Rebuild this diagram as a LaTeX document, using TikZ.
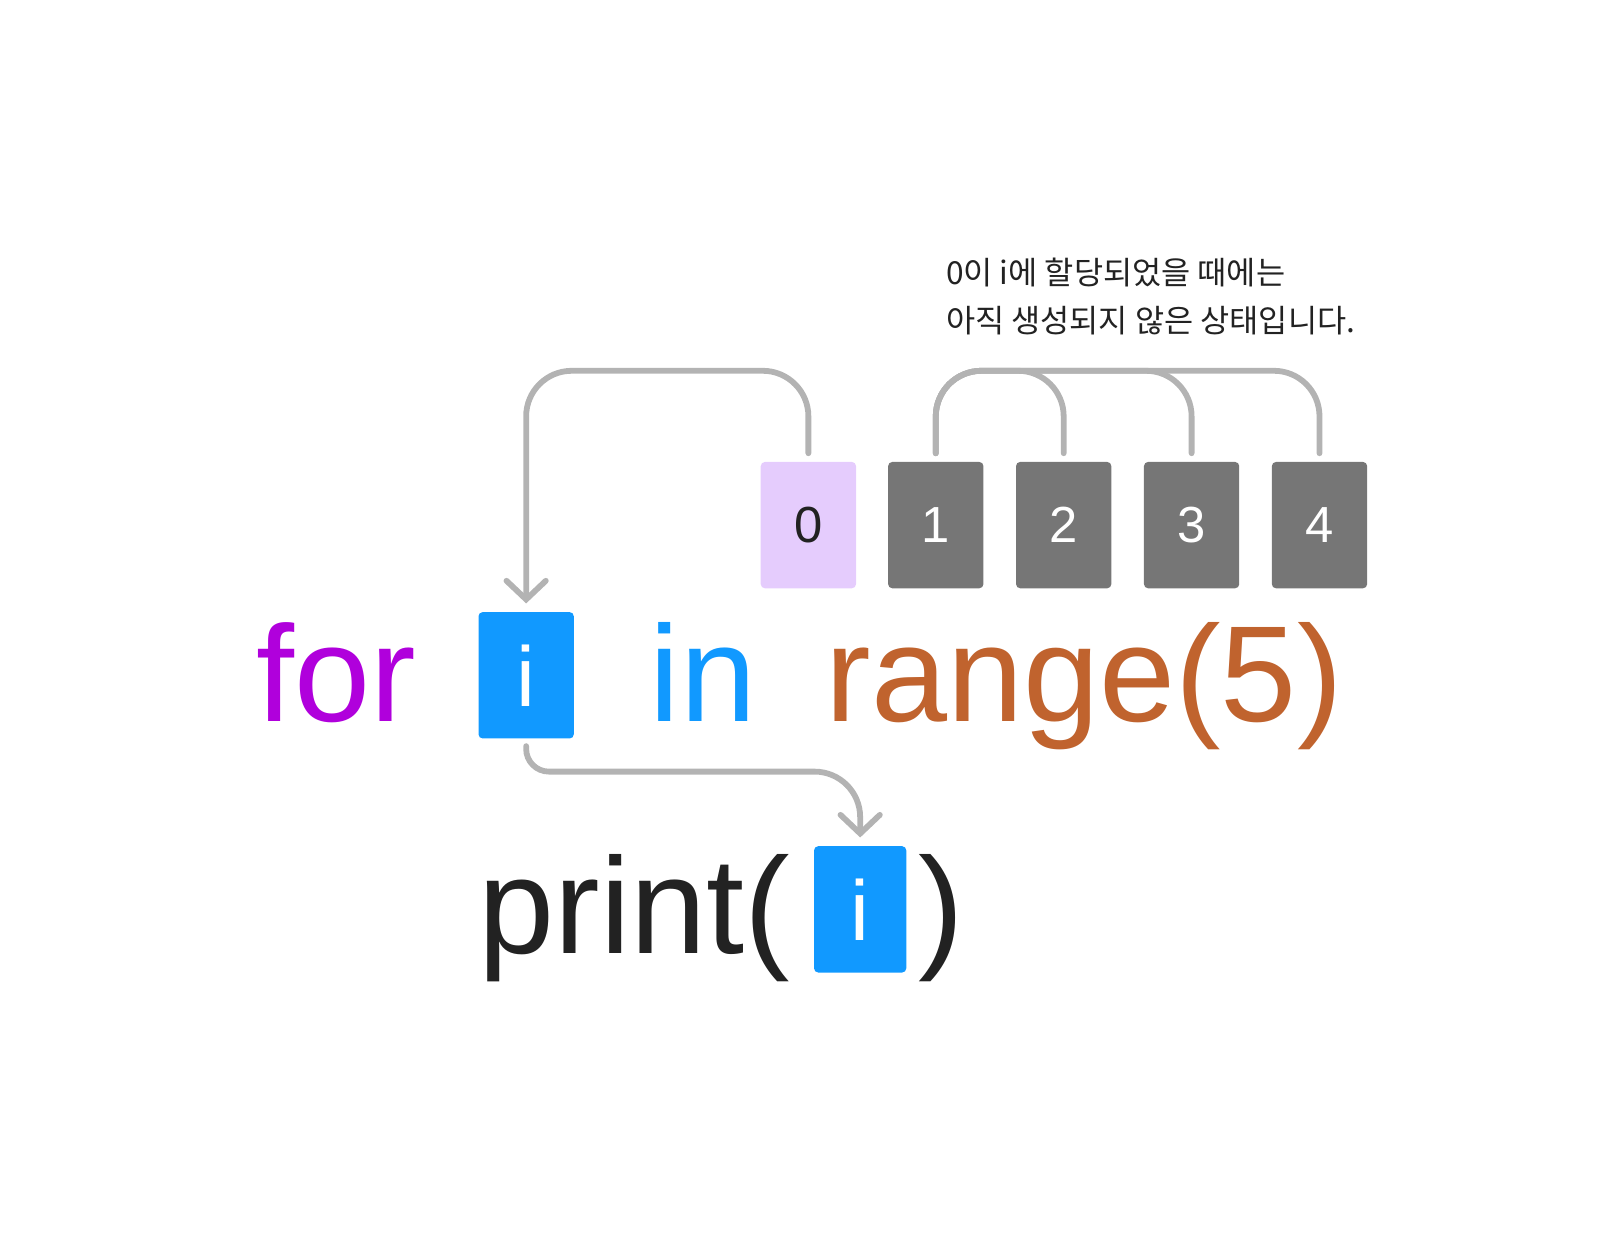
\documentclass[tikz,border=0pt]{standalone}
\usepackage{fontspec}
\setmainfont{Liberation Sans}
\newfontfamily\krfont{Noto Sans CJK KR}
\usetikzlibrary{arrows.meta}
\definecolor{kwpurple}{RGB}{176,0,220}
\definecolor{varblue}{RGB}{17,153,255}
\definecolor{fnorange}{RGB}{192,99,46}
\definecolor{linkgray}{RGB}{179,179,179}
\definecolor{boxgray}{RGB}{118,118,118}
\definecolor{boxlilac}{RGB}{229,204,253}
\definecolor{inkdark}{RGB}{34,34,34}
\begin{document}
\begin{tikzpicture}[x=0.5pt,y=-0.5pt,
	num/.style={rounded corners=2pt,minimum width=46pt,minimum height=61pt,inner sep=0pt,font=\fontsize{24.5}{24.5}\selectfont},
	todo/.style={num,fill=boxgray,text=white},
	done/.style={num,fill=boxlilac,text=inkdark},
	var/.style={rounded corners=2pt,fill=varblue,text=white,minimum width=46pt,minimum height=61pt,inner sep=0pt,font=\fontsize{41}{41}\selectfont},
	code/.style={anchor=base west,inner sep=0pt,font=\fontsize{66}{66}\selectfont},
	note/.style={anchor=base west,inner sep=0pt,text=inkdark,font=\krfont\fontsize{15.3}{15.3}\selectfont},
	link/.style={draw=linkgray,line width=2.8pt,line cap=round,rounded corners=22pt},
	tip/.style={-{Straight Barb[length=9pt,width=19pt,line cap=round]}}]
	\useasboundingbox (0,0) rectangle (1568,1194);
	\coordinate (top) at (0,358);
	\coordinate (low) at (0,745);
	% the note
	\node[note] (note1) at (913,275) {0이 i에 할당되었을 때에는};
	\node[note] (note2) at ([yshift=-23pt]note1.base west) {아직 생성되지 않은 상태입니다.};
	% range values
	\node[done] (b0) at (780.5,507) {0};
	\node[todo] (b1) at (903.5,507) {1};
	\node[todo] (b2) at (1027,507) {2};
	\node[todo] (b3) at (1150.5,507) {3};
	\node[todo] (b4) at (1274,507) {4};
	% the loop line
	\node[code,text=kwpurple] (kwfor) at (247,697) {for};
	\node[var] (ifor) at (508,652) {i};
	\node[code,text=varblue] (kwin) at (627,697) {in};
	\node[code,text=fnorange] (rng) at (797,697) {range(5)};
	% the body
	\node[code,text=inkdark] (prt) at (462,921) {print(};
	\node[var,minimum width=44.5pt] (iprint) at (830.5,878) {i};
	\node[code,text=inkdark] (prtend) at (886,921) {)};
	% connectors
	\draw[link,tip] ([yshift=4pt]b0.north) |- (top -| ifor.north) -- ([yshift=4pt]ifor.north);
	\foreach \k in {2,3,4}
		\draw[link] ([yshift=4pt]b1.north) |- (top -| b\k.north) -- ([yshift=4pt]b\k.north);
	\draw[link,tip] ([yshift=-3.5pt]ifor.south) [rounded corners=11pt] |- (low -| kwin.west)
		[rounded corners=22pt] -| ([yshift=4pt]iprint.north);
\end{tikzpicture}
\end{document}
